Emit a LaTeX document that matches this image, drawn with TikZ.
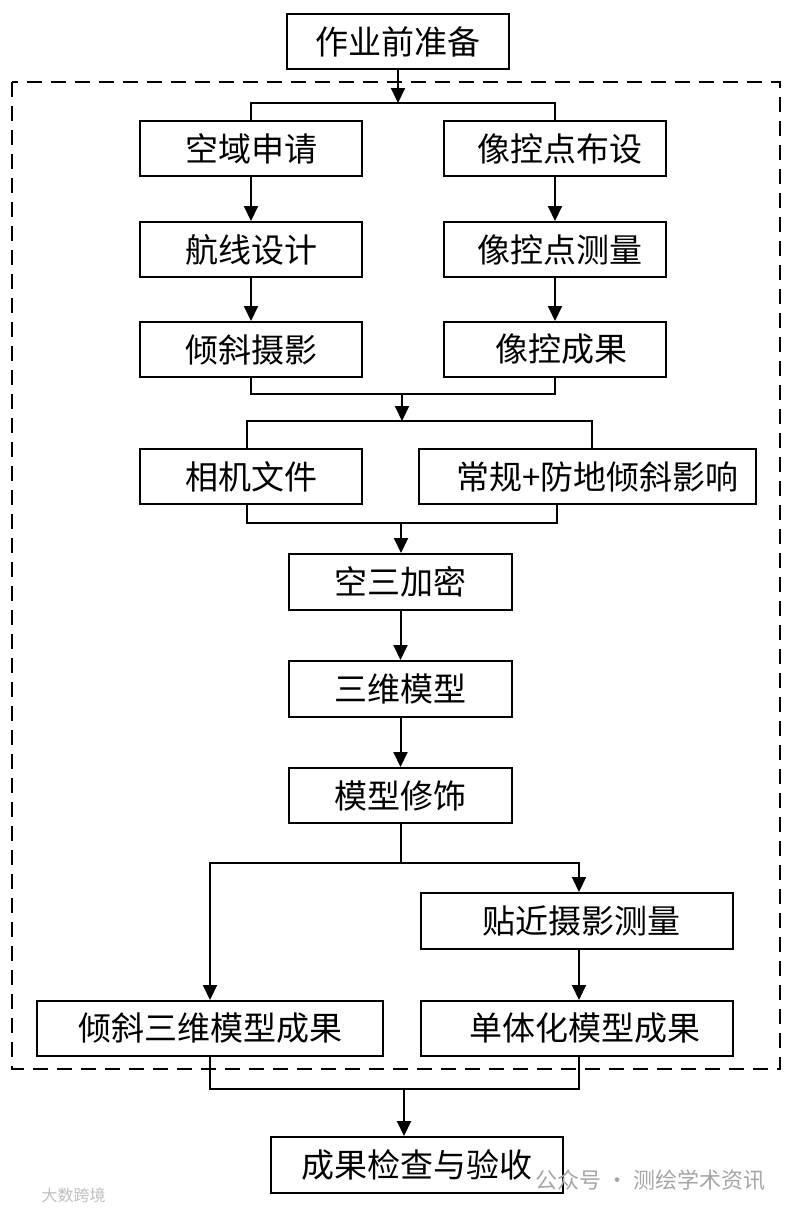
\documentclass[tikz,border=0pt]{standalone}
\usepackage{fontspec}
\newfontfamily\cjk{Noto Sans CJK SC}
\usetikzlibrary{arrows.meta}
\begin{document}
\begin{tikzpicture}[x=1pt,y=-1pt,
  box/.style={draw,line width=2pt,minimum height=55pt,inner sep=0pt,anchor=north west,
    font=\cjk\fontsize{33}{33}\selectfont},
  ln/.style={line width=2pt},
  arr/.style={ln,-{Triangle[length=15pt,width=14pt]}},
  frame/.style={line width=2pt,dash pattern=on 15pt off 9pt},
  wm/.style={text=black!35,font=\cjk\fontsize{22}{22}\selectfont}]
\useasboundingbox (0,0) rectangle (788,1210);
\fill[white] (0,0) rectangle (788,1210);
% dashed frame
\draw[frame] (12,82) rectangle (780,1069);
% nodes
\node[box,minimum width=222pt] (n1) at (286,13) {作业前准备};
\node[box,minimum width=222pt] (a1) at (139,120) {空域申请};
\node[box,minimum width=222pt] (a2) at (139,221) {航线设计};
\node[box,minimum width=222pt] (a3) at (139,321) {倾斜摄影};
\node[box,minimum width=222pt] (b1) at (443,120) {\hspace{10pt}像控点布设};
\node[box,minimum width=222pt] (b2) at (443,221) {\hspace{10pt}像控点测量};
\node[box,minimum width=222pt] (b3) at (443,321) {\hspace{12pt}像控成果};
\node[box,minimum width=222pt] (c1) at (139,448) {相机文件};
\node[box,minimum width=337pt] (c2) at (418,448) {\hspace{20pt}常规+防地倾斜影响};
\node[box,minimum width=223pt,minimum height=56pt] (d1) at (288,553) {空三加密};
\node[box,minimum width=223pt,minimum height=56pt] (d2) at (288,660) {三维模型};
\node[box,minimum width=223pt] (d3) at (288,767) {模型修饰};
\node[box,minimum width=312pt,minimum height=56pt] (e1) at (420,892) {\hspace{8pt}贴近摄影测量};
\node[box,minimum width=346pt] (f1) at (36,1000) {倾斜三维模型成果};
\node[box,minimum width=312pt] (f2) at (420,1000) {\hspace{16pt}单体化模型成果};
\node[box,minimum width=292pt,minimum height=56pt] (g) at (270,1136) {成果检查与验收};
% junctions
\coordinate (j1) at (397,103);
\coordinate (j2) at (402,394);
\coordinate (j3) at (402,421);
\coordinate (j4) at (401,523);
\coordinate (j5) at (399,863);
\coordinate (j6) at (404,1089);
% connectors
\draw[arr] (n1.south) -- (n1.south |- j1);
\draw[ln] (a1.north) |- (j1) -| (b1.north);
\draw[arr] (a1) -- (a2);
\draw[arr] (a2) -- (a3);
\draw[arr] (b1) -- (b2);
\draw[arr] (b2) -- (b3);
\draw[ln] (a3.south) |- (j2) -| (b3.south);
\draw[arr] (j2) -- (j3);
\draw[ln] ([xshift=-4pt]c1.north) |- (j3) -| ([xshift=4pt]c2.north);
\draw[ln] ([xshift=-4pt]c1.south) |- (j4) -| ([xshift=-31pt]c2.south);
\draw[arr] (j4) -- (j4 |- d1.north);
\draw[arr] (d1) -- (d2);
\draw[arr] (d2) -- (d3);
\draw[ln] (d3.south) -- (d3.south |- j5);
\draw[arr] (d3.south |- j5) -| (f1.north);
\draw[arr] (d3.south |- j5) -| ([xshift=2pt]e1.north);
\draw[arr] ([xshift=2pt]e1.south) -- ([xshift=2pt]f2.north);
\draw[ln] (f1.south) |- (j6) -| ([xshift=2pt]f2.south);
\draw[arr] (j6) -- (j6 |- g.north);
% watermarks
\node[wm,anchor=west] (w1) at (532,1180) {公众号 · 测绘学术资讯};
\node[text=black!25,font=\cjk\fontsize{16}{16}\selectfont,anchor=west] (w2) at (38,1195) {大数跨境};
\end{tikzpicture}
\end{document}
